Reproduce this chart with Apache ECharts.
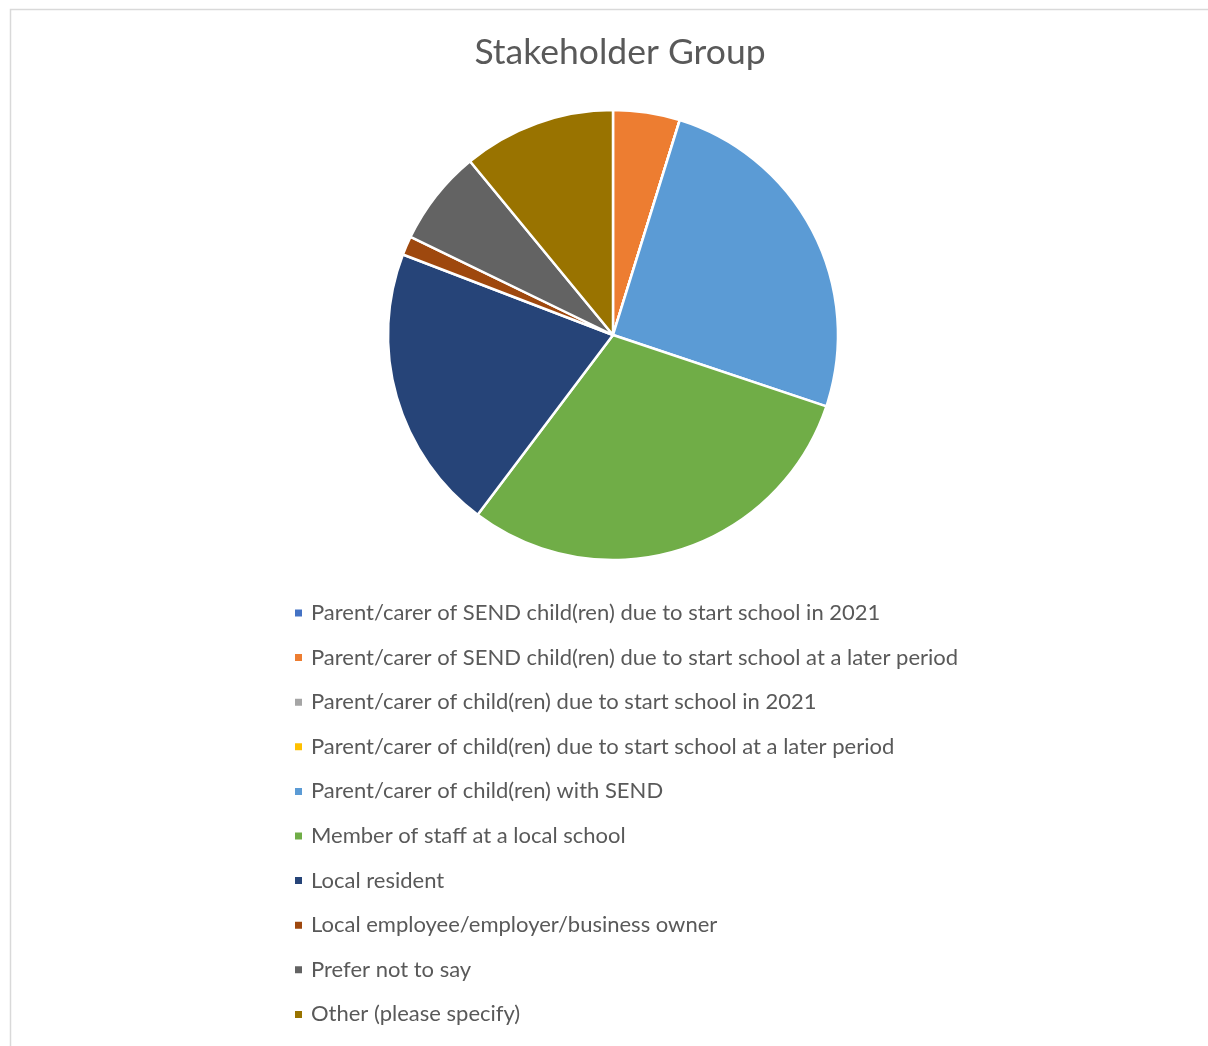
<!DOCTYPE html>
<html>
<head>
<meta charset="utf-8">
<script src="https://cdn.jsdelivr.net/npm/echarts@6/dist/echarts.min.js"></script>
<style>html,body{margin:0;padding:0;background:#fff;}#c{width:1208px;height:1046px;}</style>
</head>
<body>
<div id="c"></div>
<script>
const titleText = "Stakeholder Group";
const categories = [
  "Parent/carer of SEND child(ren) due to start school in 2021",
  "Parent/carer of SEND child(ren) due to start school at a later period",
  "Parent/carer of child(ren) due to start school in 2021",
  "Parent/carer of child(ren) due to start school at a later period",
  "Parent/carer of child(ren) with SEND",
  "Member of staff at a local school",
  "Local resident",
  "Local employee/employer/business owner",
  "Prefer not to say",
  "Other (please specify)"
];
const values = [0, 7, 0, 0, 37, 44, 30, 2, 10, 16];
const colors = ["#4472C4", "#ED7D31", "#A5A5A5", "#FFC000", "#5B9BD5", "#70AD47", "#264478", "#9E480E", "#636363", "#997300"];

const chart = echarts.init(document.getElementById('c'), null, {renderer: 'canvas'});
chart.setOption({
  animation: false,
  color: colors,
  title: {
    text: titleText,
    left: 615,
    textAlign: 'center',
    top: 30,
    textStyle: {fontFamily: 'Lato', fontWeight: 'normal', fontSize: 35.5, color: '#595959'}
  },
  graphic: [{
    type: 'rect',
    shape: {x: 10.5, y: 9.5, width: 1400, height: 1200},
    style: {fill: 'none', stroke: '#d9d9d9', lineWidth: 1.5},
    silent: true
  }],
  legend: {
    orient: 'vertical',
    left: 293,
    top: 602,
    padding: 0,
    itemWidth: 9,
    itemHeight: 9,
    itemGap: 22.6,
    icon: 'rect',
    textStyle: {fontFamily: 'Lato', fontSize: 22, color: '#595959', lineHeight: 20, padding: [0, 0, 0, 3]},
    data: categories
  },
  series: [{
    type: 'pie',
    center: [613, 335],
    radius: [0, 225],
    startAngle: 90,
    clockwise: true,
    stillShowZeroSum: true,
    label: {show: false},
    labelLine: {show: false},
    itemStyle: {borderColor: '#ffffff', borderWidth: 2.5},
    emphasis: {disabled: true},
    data: categories.map((n, i) => ({name: n, value: values[i]}))
  }]
});
</script>
</body>
</html>
